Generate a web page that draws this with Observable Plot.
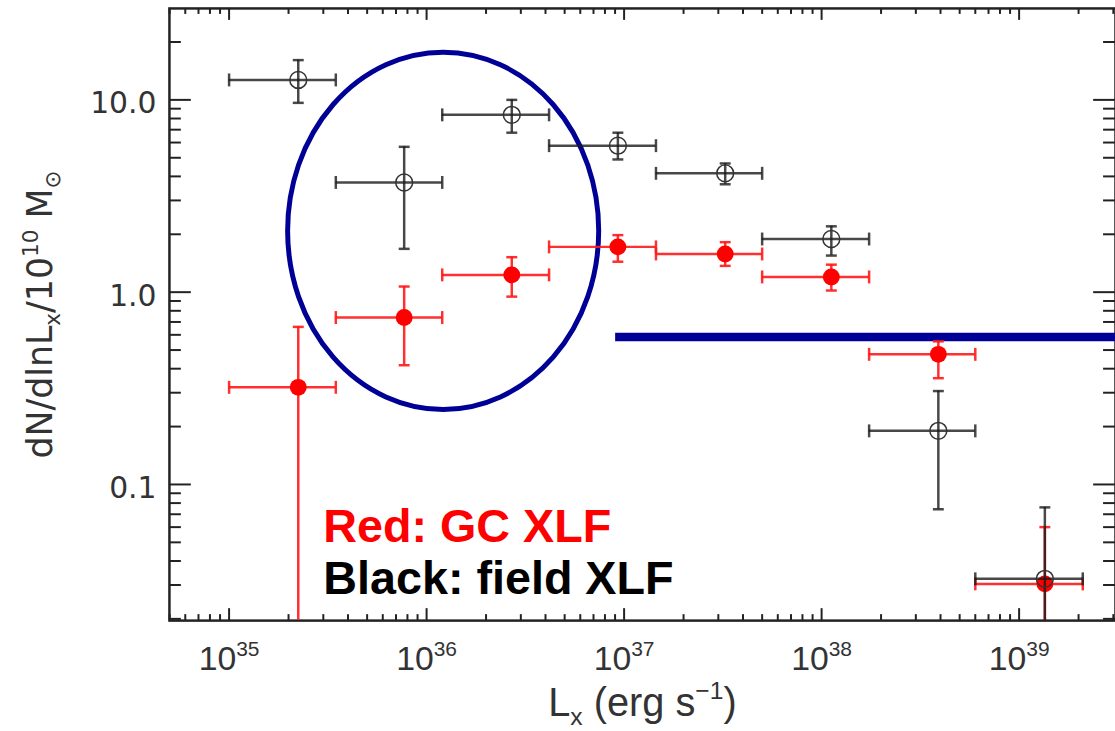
<!DOCTYPE html>
<html>
<head>
<meta charset="utf-8">
<script src="https://cdn.jsdelivr.net/npm/d3@7"></script>
<script src="https://cdn.jsdelivr.net/npm/@observablehq/plot@0.6"></script>
<style>
  html, body { margin: 0; padding: 0; background: #fff; overflow: hidden; }
</style>
</head>
<body>
<div id="chart"></div>
<script>
// ---- Data ----
// luminosity bins (erg/s): point position and bin edges
const lxCenter = [2.24e35, 7.7e35, 2.7e36, 9.3e36, 3.25e37, 1.12e38, 3.9e38, 1.35e39];
const lxLow    = [1.0e35, 3.47e35, 1.2e36, 4.17e36, 1.45e37, 5.0e37, 1.74e38, 6.0e38];
const lxHigh   = [3.47e35, 1.2e36, 4.17e36, 1.45e37, 5.0e37, 1.74e38, 6.0e38, 2.1e39];

// Black: field XLF
const fieldVal  = [12.7, 3.72, 8.36, 5.78, 4.15, 1.89, 0.19, 0.0323];
const fieldLow  = [9.65, 1.68, 6.75, 4.9, 3.64, 1.55, 0.0743, 0.005];
const fieldHigh = [16.1, 5.7, 10.0, 6.75, 4.67, 2.2, 0.306, 0.076];

// Red: GC XLF
const gcVal  = [0.32, 0.738, 1.23, 1.72, 1.58, 1.20, 0.475, 0.0304];
const gcLow  = [0.005, 0.417, 0.948, 1.44, 1.37, 1.02, 0.357, 0.005];
const gcHigh = [0.66, 1.07, 1.52, 1.98, 1.82, 1.39, 0.555, 0.06];

// axis limits and tick labels
const xDomain = [Math.pow(10, 34.698), Math.pow(10, 39.488)];
const yDomain = [Math.pow(10, -1.708), Math.pow(10, 1.4755)];
const xMajor = [1e35, 1e36, 1e37, 1e38, 1e39];
const xTickLabels = ["10^{35}", "10^{36}", "10^{37}", "10^{38}", "10^{39}"];
const yMajor = [0.1, 1, 10];
const yTickLabels = ["0.1", "1.0", "10.0"];
const xTitle = "L_{x} (erg s^{−1})";
const yTitle = "dN/dlnL_{x}/10^{10} M_{⊙}";

// annotations
const legendText = ["Red: GC XLF", "Black: field XLF"];
const legendColors = ["#ff0000", "#000000"];
const legendX = 3.0e35;
const legendY = [0.0501, 0.0270];
const ellipseX = [1.99e35, 7.48e36];
const ellipseY = [0.244, 17.6];
const blueLineX = 9.06e36;
const blueLineY = 0.585;

// ---- Tables ----
const field = lxCenter.map((x, i) => ({x, xlo: lxLow[i], xhi: lxHigh[i], y: fieldVal[i], ylo: fieldLow[i], yhi: fieldHigh[i]}));
const gc = lxCenter.map((x, i) => ({x, xlo: lxLow[i], xhi: lxHigh[i], y: gcVal[i], ylo: gcLow[i], yhi: gcHigh[i]}));

const isMajor = d => Math.abs(Math.log10(d) - Math.round(Math.log10(d))) < 1e-6;
const xAll = d3.scaleLog().domain(xDomain).ticks();
const yAll = d3.scaleLog().domain(yDomain).ticks();
const xMinor = xAll.filter(d => !isMajor(d));
const yMinor = yAll.filter(d => !isMajor(d));

const W = 1122, H = 731, mL = 170, mR = 0, mT = 8, mB = 107;
const plotW = W - mL - mR, plotH = H - mT - mB;

const vCap = {draw(ctx, size) { const r = Math.sqrt(size / Math.PI); ctx.moveTo(0, -r); ctx.lineTo(0, r); }};
const hCap = {draw(ctx, size) { const r = Math.sqrt(size / Math.PI); ctx.moveTo(-r, 0); ctx.lineTo(r, 0); }};

function errorMarks(data, color, opacity, sw) {
  return [
    Plot.ruleY(data, {y: "y", x1: "xlo", x2: "xhi", stroke: color, strokeWidth: sw, strokeOpacity: opacity, clip: true}),
    Plot.ruleX(data, {x: "x", y1: "ylo", y2: "yhi", stroke: color, strokeWidth: sw, strokeOpacity: opacity, clip: true}),
    Plot.dot(data, {x: "xlo", y: "y", symbol: vCap, r: 6.5, stroke: color, strokeWidth: sw, strokeOpacity: opacity, fill: "none", clip: true}),
    Plot.dot(data, {x: "xhi", y: "y", symbol: vCap, r: 6.5, stroke: color, strokeWidth: sw, strokeOpacity: opacity, fill: "none", clip: true}),
    Plot.dot(data, {x: "x", y: "ylo", symbol: hCap, r: 5.5, stroke: color, strokeWidth: sw, strokeOpacity: opacity, fill: "none", clip: true}),
    Plot.dot(data, {x: "x", y: "yhi", symbol: hCap, r: 5.5, stroke: color, strokeWidth: sw, strokeOpacity: opacity, fill: "none", clip: true})
  ];
}

function ellipseMark(index, scales) {
  const x0 = scales.x(ellipseX[0]), x1 = scales.x(ellipseX[1]);
  const y0 = scales.y(ellipseY[0]), y1 = scales.y(ellipseY[1]);
  const e = document.createElementNS("http://www.w3.org/2000/svg", "ellipse");
  e.setAttribute("cx", (x0 + x1) / 2);
  e.setAttribute("cy", (y0 + y1) / 2);
  e.setAttribute("rx", Math.abs(x1 - x0) / 2);
  e.setAttribute("ry", Math.abs(y1 - y0) / 2);
  e.setAttribute("fill", "none");
  e.setAttribute("stroke", "#000096");
  e.setAttribute("stroke-width", 5);
  return e;
}

const axisColor = "#222";
const labelColor = "#333";
const sans = "'Liberation Sans', Arial, Helvetica, sans-serif";
const wide = "'DejaVu Sans', 'Liberation Sans', sans-serif";

const chart = Plot.plot({
  width: W, height: H,
  marginLeft: mL, marginRight: mR, marginTop: mT, marginBottom: mB,
  x: {type: "log", domain: xDomain, axis: null},
  y: {type: "log", domain: yDomain, axis: null},
  style: {fontFamily: sans, background: "white", overflow: "visible"},
  marks: [
    // ticks: bottom/top
    Plot.tickX(xMajor, {x: d => d, insetTop: plotH - 12, stroke: axisColor, strokeWidth: 2}),
    Plot.tickX(xMinor, {x: d => d, insetTop: plotH - 6, stroke: axisColor, strokeWidth: 2}),
    Plot.tickX(xMajor, {x: d => d, insetBottom: plotH - 12, stroke: axisColor, strokeWidth: 2}),
    Plot.tickX(xMinor, {x: d => d, insetBottom: plotH - 6, stroke: axisColor, strokeWidth: 2}),
    // ticks: left/right
    Plot.tickY(yMajor, {y: d => d, insetRight: plotW - 22, stroke: axisColor, strokeWidth: 2}),
    Plot.tickY(yMinor, {y: d => d, insetRight: plotW - 12, stroke: axisColor, strokeWidth: 2}),
    Plot.tickY(yMajor, {y: d => d, insetLeft: plotW - 22, stroke: axisColor, strokeWidth: 2}),
    Plot.tickY(yMinor, {y: d => d, insetLeft: plotW - 12, stroke: axisColor, strokeWidth: 2}),
    Plot.frame({stroke: axisColor, strokeWidth: 2.5}),
    // tick labels
    Plot.text(xMajor, {x: d => d, text: xTickLabels, frameAnchor: "bottom", lineAnchor: "top", dy: 26, fontSize: 34, fill: labelColor, fontFamily: sans}),
    Plot.text(yMajor, {y: d => d, text: yTickLabels, frameAnchor: "left", textAnchor: "end", dx: -13, dy: 4, fontSize: 30, fill: labelColor, fontFamily: wide}),
    // axis titles
    Plot.text([xTitle], {text: d => d, frameAnchor: "bottom", textAnchor: "middle", lineAnchor: "bottom", dy: 96, fontSize: 40, fill: labelColor, fontFamily: sans}),
    Plot.text([yTitle], {text: d => d, frameAnchor: "left", textAnchor: "middle", rotate: -90, lineAnchor: "bottom", dx: -118, fontSize: 35, fill: labelColor, fontFamily: wide}),
    // annotation: ellipse and line
    ellipseMark,
    Plot.ruleY([blueLineY], {y: d => d, x1: blueLineX, x2: xDomain[1], stroke: "#000096", strokeWidth: 8.5}),
    // red GC XLF
    ...errorMarks(gc, "#ff1a1a", 0.9, 2.5),
    Plot.dot(gc, {x: "x", y: "y", r: 8.5, fill: "#ff0000", stroke: "none", clip: true}),
    // black field XLF
    ...errorMarks(field, "#1a1a1a", 0.8, 2.5),
    Plot.dot(field, {x: "x", y: "y", r: 8.5, fill: "none", stroke: "#333", strokeWidth: 1.5, clip: true}),
    // legend
    Plot.text(legendText, {x: () => legendX, y: (d, i) => legendY[i], text: d => d, fill: legendColors, textAnchor: "start", lineAnchor: "bottom", fontSize: 47, fontWeight: "bold", fontFamily: sans})
  ]
});

document.getElementById("chart").appendChild(chart);

// Turn ^{..} and _{..} markup into super/subscript tspans
function richify(root) {
  const ns = "http://www.w3.org/2000/svg";
  root.querySelectorAll("text").forEach(t => {
    const s = t.textContent;
    if (!/[\^_]\{/.test(s)) return;
    const fs = parseFloat(getComputedStyle(t).fontSize);
    const segs = [];
    const re = /([\^_])\{([^}]*)\}/g;
    let last = 0, m;
    while ((m = re.exec(s))) {
      if (m.index > last) segs.push([s.slice(last, m.index), 0]);
      segs.push([m[2], m[1] === "^" ? -1 : 1]);
      last = re.lastIndex;
    }
    if (last < s.length) segs.push([s.slice(last), 0]);
    while (t.firstChild) t.removeChild(t.firstChild);
    let cur = 0;
    for (const [txt, mode] of segs) {
      const target = mode < 0 ? -0.42 * fs : mode > 0 ? 0.22 * fs : 0;
      const ts = document.createElementNS(ns, "tspan");
      ts.setAttribute("dy", target - cur);
      cur = target;
      if (mode) ts.setAttribute("font-size", 0.62 * fs);
      ts.textContent = txt;
      t.appendChild(ts);
    }
  });
}
richify(chart);
</script>
</body>
</html>
